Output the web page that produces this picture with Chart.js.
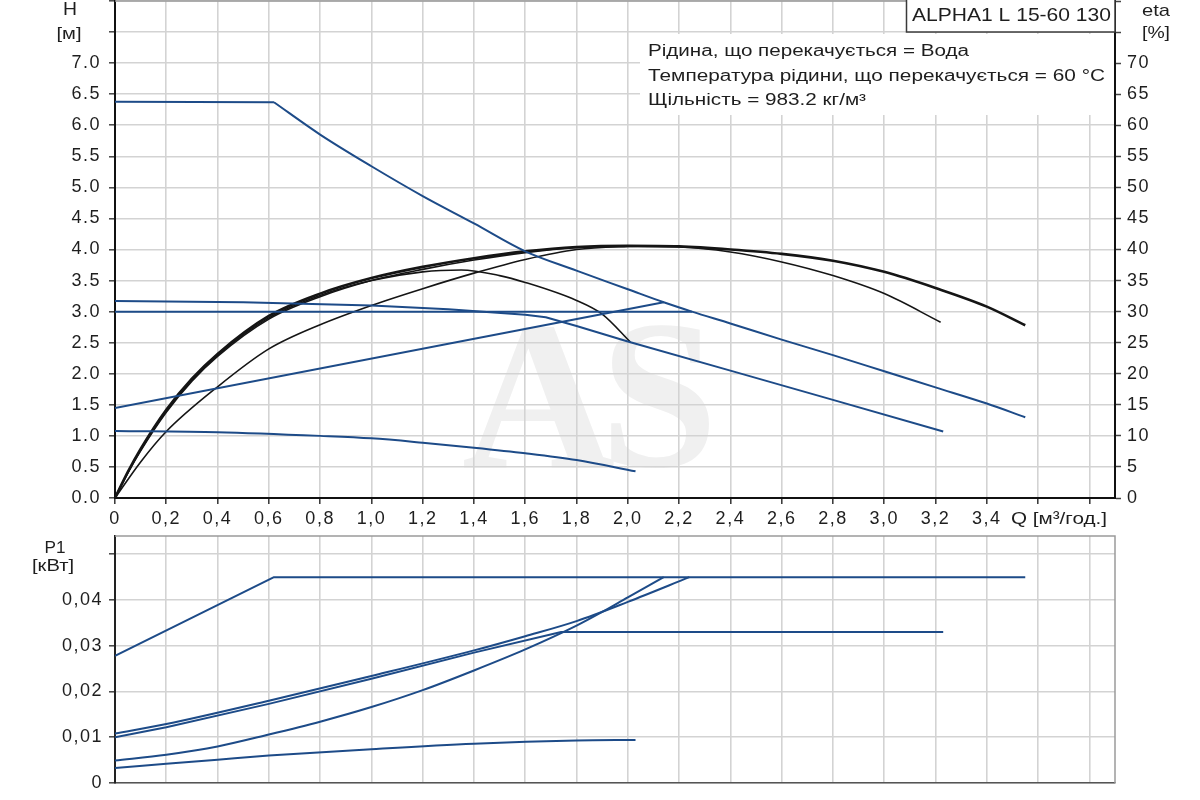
<!DOCTYPE html>
<html><head><meta charset="utf-8">
<script src="https://cdn.jsdelivr.net/npm/chart.js@4.4.1/dist/chart.umd.min.js"></script>
<style>
html,body{margin:0;padding:0;background:#fff;}
#wrap{position:relative;width:1200px;height:800px;overflow:hidden;background:#fff;}
canvas{position:absolute;left:0;}
#c1{top:0;}
#c2{top:530px;}
</style></head><body>
<div id="wrap"><canvas id="c1" width="1200" height="540"></canvas><canvas id="c2" width="1200" height="270"></canvas></div>
<script>
// ---------- axes / ticks ----------
const Q_TICKS = [0,0.2,0.4,0.6,0.8,1.0,1.2,1.4,1.6,1.8,2.0,2.2,2.4,2.6,2.8,3.0,3.2,3.4,3.6,3.8];
const Q_TICK_LABELS = ['0','0,2','0,4','0,6','0,8','1,0','1,2','1,4','1,6','1,8','2,0','2,2','2,4','2,6','2,8','3,0','3,2','3,4','',''];
const H_TICKS = [0,0.5,1,1.5,2,2.5,3,3.5,4,4.5,5,5.5,6,6.5,7,7.5,8];
const H_TICK_LABELS = ['0.0','0.5','1.0','1.5','2.0','2.5','3.0','3.5','4.0','4.5','5.0','5.5','6.0','6.5','7.0','',''];
const ETA_TICKS = [0,5,10,15,20,25,30,35,40,45,50,55,60,65,70,75,80];
const ETA_TICK_LABELS = ['0','5','10','15','20','25','30','35','40','45','50','55','60','65','70','',''];
const P_TICKS = [0,0.01,0.02,0.03,0.04,0.05];
const P_TICK_LABELS = ['0','0,01','0,02','0,03','0,04',''];

// ---------- head curves H [m] ----------
const hMaxFlatQ = [0,0.62];
const hMaxFlatH = [6.38,6.37];
const hMaxQ = [0.62,0.8,1.0,1.2,1.4,1.6,1.8,2.0,2.14,2.25,2.4,2.6,2.8,3.0,3.2,3.4,3.55];
const hMaxH = [6.37,5.85,5.34,4.86,4.42,3.97,3.66,3.36,3.15,3.00,2.81,2.55,2.30,2.04,1.78,1.52,1.30];
const hBQ = [0,0.5,1.0,1.3,1.6,1.68,1.8,2.0,2.4,2.8,3.23];
const hBH = [3.17,3.15,3.10,3.04,2.95,2.91,2.77,2.52,2.05,1.58,1.07];
const hCQ = [0,2.25];
const hCH = [3.0,3.0];
const hDQ = [0,2.14];
const hDH = [1.45,3.15];
const hEQ = [0,0.4,0.8,1.0,1.2,1.4,1.6,1.8,2.03];
const hEH = [1.08,1.06,1.00,0.96,0.89,0.81,0.72,0.61,0.43];

// ---------- efficiency curves eta [%] ----------
const eta1Q = [0,0.05,0.1,0.2,0.3,0.4,0.6,0.8,1.0,1.2,1.4,1.6,1.8,2.0,2.2,2.4,2.6,2.8,3.0,3.2,3.4,3.55];
const eta1V = [0,4.2,7.9,14.2,19.2,23.2,29.3,32.9,35.4,37.2,38.6,39.7,40.4,40.6,40.5,40.0,39.3,38.2,36.4,33.8,30.8,27.8];
const eta2Q = [0,0.05,0.1,0.2,0.3,0.4,0.6,0.8,1.0,1.2,1.4,1.6,1.8,2.0,2.2,2.4,2.6,2.8,3.0,3.22];
const eta2V = [0,4.0,7.6,13.8,18.8,22.8,28.8,32.4,35.0,36.8,38.3,39.5,40.3,40.5,40.4,39.6,38.0,35.8,32.9,28.3];
const eta3Q = [0,0.05,0.1,0.2,0.3,0.4,0.6,0.8,1.0,1.2,1.35,1.5,1.6,1.8,1.9,2.01];
const eta3V = [0,4.1,7.7,14.0,19.0,23.0,29.0,32.6,35.0,36.4,36.7,35.8,34.7,31.8,29.6,25.1];
const eta4Q = [0,0.1,0.2,0.4,0.6,0.8,1.0,1.2,1.4,1.6,1.8,2.0,2.14];
const eta4V = [0,5.8,10.7,17.9,24.0,27.9,31.0,33.7,36.2,38.4,40.0,40.5,40.6];

// ---------- power curves P1 [kW] ----------
const pMaxQ = [0,0.62,3.55];
const pMaxV = [0.0278,0.045,0.045];
const pBQ = [0,0.2,0.6,1.0,1.4,1.74,3.23];
const pBV = [0.0100,0.0122,0.0173,0.0228,0.0285,0.0330,0.0330];
const pCQ = [0,0.2,0.6,1.0,1.4,1.6,1.8,2.0,2.24];
const pCV = [0.0108,0.0129,0.0180,0.0234,0.0290,0.0321,0.0354,0.0396,0.0450];
const pDQ = [0,0.2,0.4,0.6,0.8,1.0,1.2,1.4,1.6,1.8,1.9,2.0,2.14];
const pDV = [0.0049,0.0062,0.0080,0.0106,0.0134,0.0166,0.0203,0.0246,0.0292,0.0344,0.0374,0.0406,0.0450];
const pEQ = [0,0.2,0.4,0.6,1.0,1.4,1.8,2.03];
const pEV = [0.0033,0.0042,0.0051,0.0060,0.0074,0.0086,0.0093,0.0094];

// ---------- styling ----------
const FONT = "'Liberation Sans', Arial, sans-serif";
const BLUE = '#1d4b88';
const BLACK = '#151515';
const GRID = '#d3d3d3';
const TXT = '#1e1e1e';

function pts(xs, ys){ return xs.map((x,i)=>({x:x, y:ys[i]})); }
function line(xs, ys, axis, color, w, straight){
  const d = {data:pts(xs,ys), yAxisID:axis, borderColor:color, borderWidth:w, pointRadius:0,
          fill:false, borderJoinStyle:'round'};
  if (straight) d.tension = 0; else d.cubicInterpolationMode = 'monotone';
  return d;
}
function fitText(ctx, txt, x, y, align, font, targetW, color){
  ctx.save();
  ctx.letterSpacing = '0px';
  ctx.font = font; ctx.fillStyle = color || TXT; ctx.textBaseline = 'middle'; ctx.textAlign = 'left';
  const mw = ctx.measureText(txt).width;
  const sx = targetW ? targetW / mw : 1;
  const w = mw * sx;
  const x0 = align === 'left' ? x : (align === 'center' ? x - w/2 : x - w);
  ctx.translate(x0, y); ctx.scale(sx, 1);
  ctx.fillText(txt, 0, 0);
  ctx.restore();
}
const spacing = {
  id:'spacing',
  beforeDraw(c){ c.ctx.letterSpacing = '1.5px'; },
  afterDraw(c){ c.ctx.letterSpacing = '0px'; }
};
function setTicks(list){ return s => { s.ticks = list.map(v => ({value:v})); }; }
function fitY(w){ return s => { s.width = w; s.paddingTop = 0; s.paddingBottom = 0; }; }
function fitX(h){ return s => { s.height = h; s.paddingLeft = 0; s.paddingRight = 0; }; }
const tickFont = {family: FONT, size: 18};

// ---------- top chart ----------
const topDecor = {
  id:'topDecor',
  beforeDraw(c){
    const ctx = c.ctx;
    ctx.save();
    ctx.letterSpacing = '0px';
    ctx.fillStyle = '#f0f0f0';
    ctx.font = "bold 212px 'Liberation Serif', 'DejaVu Serif', serif";
    ctx.textBaseline = 'alphabetic'; ctx.textAlign = 'left';
    ctx.fillText('A', 462, 467);
    ctx.fillText('S', 600, 466);
    ctx.restore();
  },
  beforeDatasetsDraw(c){
    const ctx = c.ctx, a = c.chartArea;
    ctx.save();
    ctx.strokeStyle = '#9a9a9a'; ctx.lineWidth = 1.5;
    ctx.beginPath(); ctx.moveTo(a.left, a.top); ctx.lineTo(a.right, a.top); ctx.stroke();
    ctx.fillStyle = '#ffffff';
    ctx.fillRect(640, 34, a.right - 1 - 640, 81);
    ctx.restore();
  },
  afterDraw(c){
    const ctx = c.ctx, a = c.chartArea;
    ctx.save();
    ctx.fillStyle = '#fff';
    ctx.fillRect(906, 0, a.right - 906, 32);
    ctx.strokeStyle = '#3a3a3a'; ctx.lineWidth = 1.5;
    ctx.strokeRect(906.5, -1, a.right - 906.5, 33);
    ctx.restore();
    fitText(ctx, 'ALPHA1 L 15-60 130', 912, 16, 'left', '18px ' + FONT, 199);
    fitText(ctx, 'Рідина, що перекачується = Вода', 648, 52, 'left', '16px ' + FONT, 321);
    fitText(ctx, 'Температура рідини, що перекачується = 60 °C', 648, 77, 'left', '16px ' + FONT, 457);
    fitText(ctx, 'Щільність = 983.2 кг/м³', 648, 101, 'left', '16px ' + FONT, 218);
    fitText(ctx, 'H', 70, 10, 'center', '18px ' + FONT, 14);
    fitText(ctx, '[м]', 69, 34, 'center', '17px ' + FONT, 25);
    fitText(ctx, 'eta', 1156, 11, 'center', '17px ' + FONT, 28);
    fitText(ctx, '[%]', 1156, 33, 'center', '17px ' + FONT, 28);
    fitText(ctx, 'Q [м³/год.]', 1011, 519, 'left', '17px ' + FONT, 96);
  }
};

new Chart(document.getElementById('c1'), {
  type:'line',
  data:{datasets:[
    line(hMaxFlatQ, hMaxFlatH, 'y', BLUE, 2, true),
    line(hMaxQ, hMaxH, 'y', BLUE, 2),
    line(hBQ, hBH, 'y', BLUE, 2, true),
    line(hCQ, hCH, 'y', BLUE, 2, true),
    line(hDQ, hDH, 'y', BLUE, 2, true),
    line(hEQ, hEH, 'y', BLUE, 2),
    line(eta1Q, eta1V, 'eta', BLACK, 2.6),
    line(eta2Q, eta2V, 'eta', BLACK, 1.6),
    line(eta3Q, eta3V, 'eta', BLACK, 1.6),
    line(eta4Q, eta4V, 'eta', BLACK, 1.6)
  ]},
  options:{
    responsive:false, animation:false, devicePixelRatio:1,
    layout:{padding:{top:1, left:0, right:0, bottom:0}},
    plugins:{legend:{display:false}, tooltip:{enabled:false}},
    scales:{
      x:{type:'linear', min:0, max:3.9,
         afterBuildTicks:setTicks(Q_TICKS),
         afterFit:fitX(42),
         ticks:{autoSkip:false, maxRotation:0, padding:4, color:TXT, font:tickFont,
                callback:(v,i)=>Q_TICK_LABELS[i]},
         grid:{color:GRID, lineWidth:1.6, tickLength:6, tickColor:'#333', tickWidth:1.5},
         border:{color:'#111', width:2}},
      y:{type:'linear', position:'left', min:0, max:8,
         afterBuildTicks:setTicks(H_TICKS),
         afterFit:fitY(115),
         ticks:{autoSkip:false, padding:8, color:TXT, font:tickFont,
                callback:(v,i)=>H_TICK_LABELS[i]},
         grid:{color:GRID, lineWidth:1.6, tickLength:6, tickColor:'#444', tickWidth:1.5},
         border:{color:'#111', width:2}},
      eta:{type:'linear', position:'right', min:0, max:80,
         afterBuildTicks:setTicks(ETA_TICKS),
         afterFit:fitY(85),
         ticks:{autoSkip:false, padding:6, color:TXT, font:tickFont,
                callback:(v,i)=>ETA_TICK_LABELS[i]},
         grid:{drawOnChartArea:false, tickLength:6, tickColor:'#444', tickWidth:1.5},
         border:{color:'#111', width:2}}
    }
  },
  plugins:[spacing, topDecor]
});

// ---------- bottom chart ----------
const botDecor = {
  id:'botDecor',
  beforeDatasetsDraw(c){
    const ctx = c.ctx, a = c.chartArea;
    ctx.save();
    ctx.strokeStyle = '#9a9a9a'; ctx.lineWidth = 1.5;
    ctx.beginPath(); ctx.moveTo(a.left, a.top); ctx.lineTo(a.right, a.top); ctx.lineTo(a.right, a.bottom); ctx.stroke();
    ctx.restore();
  },
  afterDraw(c){
    const ctx = c.ctx;
    fitText(ctx, 'P1', 55, 18, 'center', '17px ' + FONT, 21);
    fitText(ctx, '[кВт]', 53, 37, 'center', '16px ' + FONT, 42);
  }
};

new Chart(document.getElementById('c2'), {
  type:'line',
  data:{datasets:[
    line(pMaxQ, pMaxV, 'y', BLUE, 2, true),
    line(pBQ, pBV, 'y', BLUE, 2, true),
    line(pCQ, pCV, 'y', BLUE, 2),
    line(pDQ, pDV, 'y', BLUE, 2),
    line(pEQ, pEV, 'y', BLUE, 2)
  ]},
  options:{
    responsive:false, animation:false, devicePixelRatio:1,
    layout:{padding:{top:6, left:0, right:85, bottom:0}},
    plugins:{legend:{display:false}, tooltip:{enabled:false}},
    scales:{
      x:{type:'linear', min:0, max:3.9,
         afterBuildTicks:setTicks(Q_TICKS),
         afterFit:fitX(17),
         ticks:{display:false},
         grid:{color:GRID, lineWidth:1.6, drawTicks:false},
         border:{color:'#555', width:1.5}},
      y:{type:'linear', position:'left', min:0, max:0.054,
         afterBuildTicks:setTicks(P_TICKS),
         afterFit:fitY(115),
         ticks:{autoSkip:false, padding:6, color:TXT, font:tickFont,
                callback:(v,i)=>P_TICK_LABELS[i]},
         grid:{color:GRID, lineWidth:1.6, tickLength:6, tickColor:'#444', tickWidth:1.5},
         border:{color:'#222', width:2}}
    }
  },
  plugins:[spacing, botDecor]
});
</script>
</body></html>
